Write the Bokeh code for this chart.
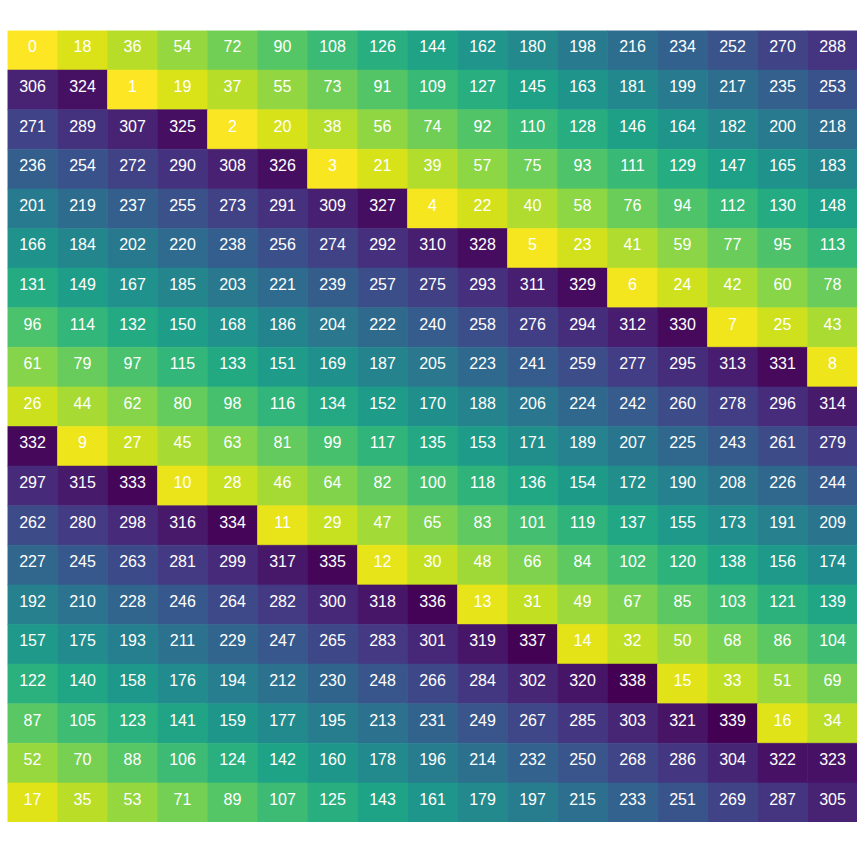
from bokeh.plotting import figure
from bokeh.models import ColumnDataSource, LinearColorMapper
from bokeh.palettes import Viridis256
from bokeh.core.properties import value
from bokeh.embed import file_html
from bokeh.resources import INLINE

rows = [
    [0, 18, 36, 54, 72, 90, 108, 126, 144, 162, 180, 198, 216, 234, 252, 270, 288],
    [306, 324, 1, 19, 37, 55, 73, 91, 109, 127, 145, 163, 181, 199, 217, 235, 253],
    [271, 289, 307, 325, 2, 20, 38, 56, 74, 92, 110, 128, 146, 164, 182, 200, 218],
    [236, 254, 272, 290, 308, 326, 3, 21, 39, 57, 75, 93, 111, 129, 147, 165, 183],
    [201, 219, 237, 255, 273, 291, 309, 327, 4, 22, 40, 58, 76, 94, 112, 130, 148],
    [166, 184, 202, 220, 238, 256, 274, 292, 310, 328, 5, 23, 41, 59, 77, 95, 113],
    [131, 149, 167, 185, 203, 221, 239, 257, 275, 293, 311, 329, 6, 24, 42, 60, 78],
    [96, 114, 132, 150, 168, 186, 204, 222, 240, 258, 276, 294, 312, 330, 7, 25, 43],
    [61, 79, 97, 115, 133, 151, 169, 187, 205, 223, 241, 259, 277, 295, 313, 331, 8],
    [26, 44, 62, 80, 98, 116, 134, 152, 170, 188, 206, 224, 242, 260, 278, 296, 314],
    [332, 9, 27, 45, 63, 81, 99, 117, 135, 153, 171, 189, 207, 225, 243, 261, 279],
    [297, 315, 333, 10, 28, 46, 64, 82, 100, 118, 136, 154, 172, 190, 208, 226, 244],
    [262, 280, 298, 316, 334, 11, 29, 47, 65, 83, 101, 119, 137, 155, 173, 191, 209],
    [227, 245, 263, 281, 299, 317, 335, 12, 30, 48, 66, 84, 102, 120, 138, 156, 174],
    [192, 210, 228, 246, 264, 282, 300, 318, 336, 13, 31, 49, 67, 85, 103, 121, 139],
    [157, 175, 193, 211, 229, 247, 265, 283, 301, 319, 337, 14, 32, 50, 68, 86, 104],
    [122, 140, 158, 176, 194, 212, 230, 248, 266, 284, 302, 320, 338, 15, 33, 51, 69],
    [87, 105, 123, 141, 159, 177, 195, 213, 231, 249, 267, 285, 303, 321, 339, 16, 34],
    [52, 70, 88, 106, 124, 142, 160, 178, 196, 214, 232, 250, 268, 286, 304, 322, 323],
    [17, 35, 53, 71, 89, 107, 125, 143, 161, 179, 197, 215, 233, 251, 269, 287, 305],
]

n_rows = len(rows)
n_cols = len(rows[0])

xs, ys, vals, labels = [], [], [], []
for r, row in enumerate(rows):
    for c, v in enumerate(row):
        xs.append(c + 0.5)
        ys.append(n_rows - r - 0.5)
        vals.append(v)
        labels.append(str(v))

src = ColumnDataSource(dict(x=xs, y=ys, v=vals, label=labels))

mapper = LinearColorMapper(palette=list(reversed(Viridis256)), low=0, high=339)

p = figure(width=857, height=822, x_range=(0, n_cols), y_range=(0, n_rows),
           output_backend="svg", toolbar_location=None,
           min_border_left=7, min_border_right=0, min_border_top=30, min_border_bottom=0)
p.axis.visible = False
p.grid.visible = False
p.outline_line_color = None
p.background_fill_color = "white"

p.rect(x="x", y="y", width=1, height=1, source=src,
       fill_color={"field": "v", "transform": mapper},
       line_color={"field": "v", "transform": mapper}, line_width=0.6)
p.text(x="x", y="y", text="label", source=src, text_color="white",
       text_align="center", text_baseline="middle", y_offset=-4,
       text_font=value("Liberation Sans"), text_font_size="16px")

open("out.html", "w").write(file_html(p, INLINE))
